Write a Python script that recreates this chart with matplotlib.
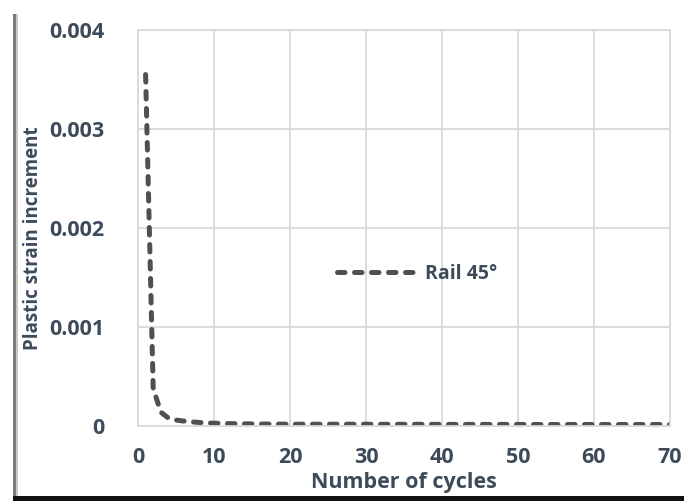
import matplotlib.pyplot as plt
from matplotlib.patches import Rectangle

# plastic strain increment per load cycle
cycles = list(range(1, 71))
strain_inc = [0.00355, 0.00038, 0.00014, 0.00008, 0.00006, 0.00005, 0.000042, 0.000036, 0.000031, 0.000028,
              0.000026, 0.000024, 0.000023, 0.000022, 0.000021, 0.00002, 0.00002, 0.000019, 0.000019, 0.000018]
strain_inc += [0.000018] * 10 + [0.000017] * 10 + [0.000016] * 10 + [0.000015] * 10 + [0.000015] * 10

x_ticks = [0, 10, 20, 30, 40, 50, 60, 70]
y_ticks = [0, 0.001, 0.002, 0.003, 0.004]
y_ticklabels = ["0", "0.001", "0.002", "0.003", "0.004"]

plt.rcParams["font.family"] = ["Open Sans", "DejaVu Sans"]
txt = "#3d4a5a"
fs = 15.5
W, H = 684, 501

fig = plt.figure(figsize=(W / 100, H / 100), dpi=100)
ax = fig.add_axes([138 / W, 1 - 426 / H, (670 - 138) / W, (426 - 30) / H])

ax.plot(cycles, strain_inc, color="#505050", lw=3.6, dashes=(1.5, 1.9),
        dash_capstyle="round", label="Rail 45°")

ax.set_xlim(0, 70)
ax.set_ylim(0, 0.004)
ax.set_xticks(x_ticks)
ax.set_yticks(y_ticks)
ax.set_yticklabels(y_ticklabels)
ax.grid(True, color="#d9d9d9", lw=1.3)
ax.set_axisbelow(True)
for s in ax.spines.values():
    s.set_color("#d9d9d9")
    s.set_linewidth(1.3)
ax.tick_params(length=0, labelsize=fs, colors=txt)
ax.tick_params(axis="y", pad=24)
ax.tick_params(axis="x", pad=15)
for lab in ax.get_xticklabels() + ax.get_yticklabels():
    lab.set_fontweight("bold")

ax.set_xlabel("Number of cycles", fontsize=fs, fontweight="bold", color=txt)
ax.xaxis.set_label_coords(0.5, -0.115)
ax.set_ylabel("Plastic strain increment", fontsize=13.5, fontweight="bold", color=txt)
ax.yaxis.set_label_coords(-0.178, 0.475)

ax.legend(loc="center", bbox_to_anchor=(0.525, 0.385), frameon=False, handlelength=4.2,
          handletextpad=0.35, prop={"weight": "bold", "size": 14}, labelcolor=txt)

# frame around the picture
fig.add_artist(Rectangle((13 / W, 0), 3 / W, 1 - 14 / H, transform=fig.transFigure,
                         color="#7a7a7a", lw=0))
fig.add_artist(Rectangle((16 / W, 0), 2 / W, 1 - 14 / H, transform=fig.transFigure,
                         color="#c8c8c8", lw=0))
fig.add_artist(Rectangle((13 / W, 0), 1 - 13 / W, 5 / H, transform=fig.transFigure,
                         color="#111111", lw=0))

fig.savefig("out.png", dpi=100)
